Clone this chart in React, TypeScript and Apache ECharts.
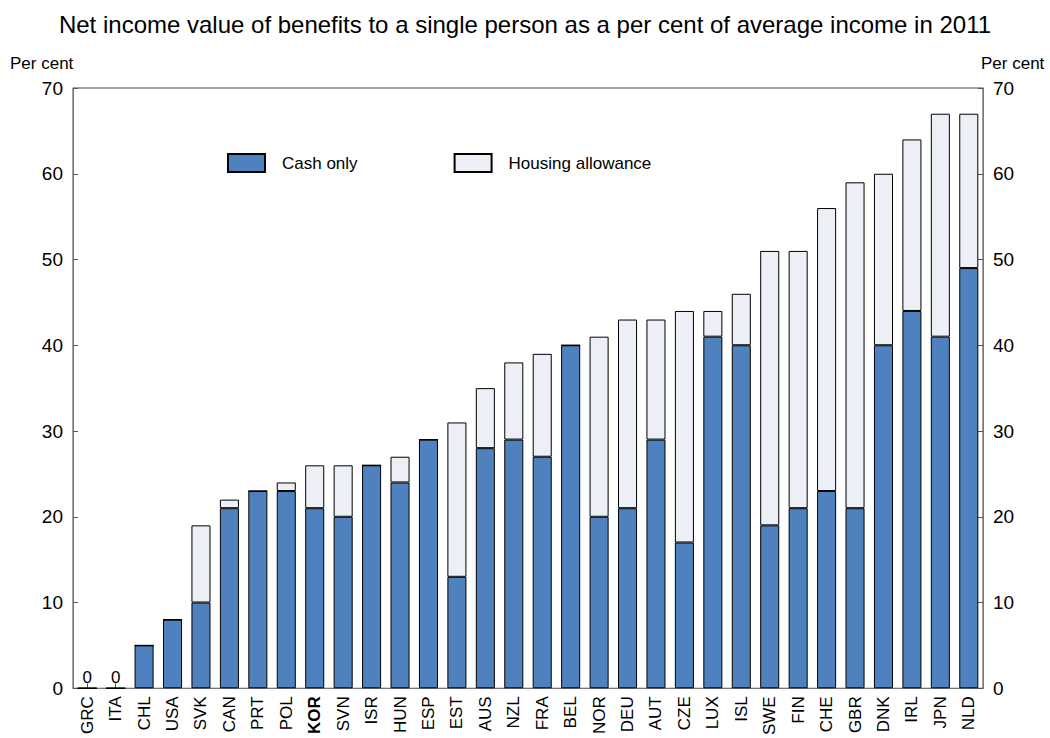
import React, { useEffect, useRef } from "react";
import * as echarts from "echarts";

const countries = ["GRC","ITA","CHL","USA","SVK","CAN","PRT","POL","KOR","SVN","ISR","HUN","ESP","EST","AUS","NZL","FRA","BEL","NOR","DEU","AUT","CZE","LUX","ISL","SWE","FIN","CHE","GBR","DNK","IRL","JPN","NLD"];
const cashOnly = [0,0,5,8,10,21,23,23,21,20,26,24,29,13,28,29,27,40,20,21,29,17,41,40,19,21,23,21,40,44,41,49];
const housingAllowance = [0,0,0,0,9,1,0,1,5,6,0,3,0,18,7,9,12,0,21,22,14,27,3,6,32,30,33,38,20,20,26,18];
const yTicks = [0,10,20,30,40,50,60,70];

const FONT = "Liberation Sans, Arial, sans-serif";

export default function App() {
  const ref = useRef<HTMLDivElement>(null);
  useEffect(() => {
    if (!ref.current) return;
    const chart = echarts.init(ref.current, null, { renderer: "svg" });
    const cashData = cashOnly.map((v, i) =>
      v === 0 && housingAllowance[i] === 0
        ? { value: v, label: { show: true, position: "top", formatter: "0", fontSize: 17, color: "#000", fontFamily: FONT, distance: 2 } }
        : v
    );
    const yAxisCommon = {
      type: "value",
      min: yTicks[0],
      max: yTicks[yTicks.length - 1],
      interval: 10,
      splitLine: { show: false },
      axisLine: { show: true, lineStyle: { color: "#777", width: 1 } },
      axisTick: { show: true, inside: true, length: 5, lineStyle: { color: "#555" } },
      axisLabel: { fontSize: 19, color: "#000", fontFamily: FONT, margin: 10 },
    };
    chart.setOption({
      animation: false,
      backgroundColor: "#fff",
      title: {
        text: "Net income value of benefits to a single person as a per cent of average income in 2011",
        left: "center",
        top: 7,
        textStyle: { fontSize: 24, fontWeight: "normal", color: "#000", fontFamily: FONT },
      },
      legend: {
        left: 222,
        top: 148,
        itemWidth: 37,
        itemHeight: 18,
        itemGap: 96,
        icon: "rect",
        textStyle: { fontSize: 17, color: "#000", fontFamily: FONT, padding: [0, 0, 0, 12] },
        data: ["Cash only", "Housing allowance"],
      },
      grid: {
        left: 73,
        right: 67,
        top: 88,
        bottom: 46,
        show: true,
        borderColor: "#444",
        borderWidth: 1,
      },
      graphic: [
        { type: "text", left: 10, top: 55, style: { text: "Per cent", fontSize: 17, fill: "#000", fontFamily: FONT } },
        { type: "text", left: 981, top: 55, style: { text: "Per cent", fontSize: 17, fill: "#000", fontFamily: FONT } },
      ],
      xAxis: {
        type: "category",
        data: countries,
        axisLine: { show: true, lineStyle: { color: "#777" } },
        axisTick: { show: true, inside: true, length: 5, alignWithLabel: true, lineStyle: { color: "#555" } },
        axisLabel: {
          rotate: 90,
          interval: 0,
          fontSize: 17,
          color: "#000",
          fontFamily: FONT,
          margin: 8,
          formatter: (v: string) => (v === "KOR" ? "{b|KOR}" : v),
          rich: { b: { fontWeight: "bold", fontSize: 17, color: "#000", fontFamily: FONT } },
        },
      },
      yAxis: [
        { ...yAxisCommon, position: "left" },
        { ...yAxisCommon, position: "right" },
      ],
      series: [
        {
          name: "Cash only",
          type: "bar",
          stack: "total",
          barWidth: "67%",
          data: cashData,
          itemStyle: { color: "#4E81BD", borderColor: "#000", borderWidth: 1 },
        },
        {
          name: "Housing allowance",
          type: "bar",
          stack: "total",
          barWidth: "67%",
          data: housingAllowance,
          itemStyle: { color: "#ECEFF6", borderColor: "#000", borderWidth: 1 },
        },
      ],
    });
    return () => chart.dispose();
  }, []);
  return <div ref={ref} style={{ position: "fixed", left: 0, top: 0, width: 1050, height: 738 }} />;
}
